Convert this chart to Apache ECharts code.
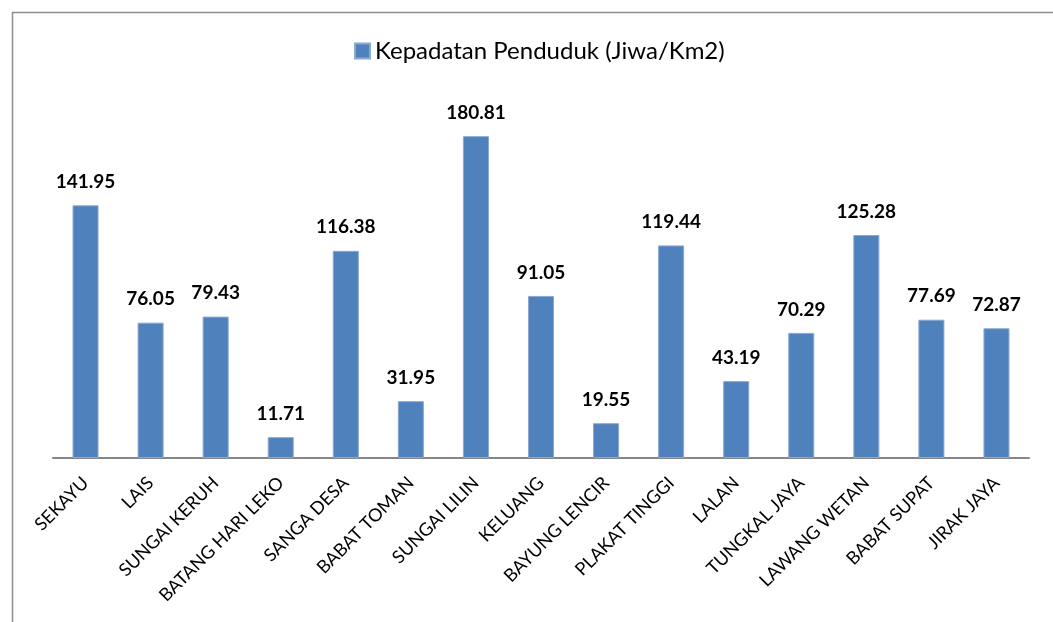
<!DOCTYPE html>
<html>
<head>
<meta charset="utf-8">
<script src="https://cdn.jsdelivr.net/npm/echarts@6/dist/echarts.min.js"></script>
<style>
  html, body { margin: 0; padding: 0; background: #fff; }
  #main { width: 1053px; height: 622px; }
</style>
</head>
<body>
<div id="main"></div>
<script>
// data
const categories = ['SEKAYU', 'LAIS', 'SUNGAI KERUH', 'BATANG HARI LEKO', 'SANGA DESA',
  'BABAT TOMAN', 'SUNGAI LILIN', 'KELUANG', 'BAYUNG LENCIR', 'PLAKAT TINGGI',
  'LALAN', 'TUNGKAL JAYA', 'LAWANG WETAN', 'BABAT SUPAT', 'JIRAK JAYA']
const density = [141.95, 76.05, 79.43, 11.71, 116.38, 31.95, 180.81, 91.05, 19.55,
  119.44, 43.19, 70.29, 125.28, 77.69, 72.87]
const seriesName = 'Kepadatan Penduduk (Jiwa/Km2)'

const chart = echarts.init(document.getElementById('main'))

const option = {
  animation: false,
  color: ['#4f81bd'],
  textStyle: { fontFamily: 'Lato' },
  graphic: [{
    type: 'rect',
    left: 10,
    top: 10,
    shape: { width: 1200, height: 800 },
    style: { fill: 'none', stroke: '#8c8c8c', lineWidth: 1.5 },
    silent: true
  }],
  legend: {
    left: 349,
    top: 34,
    itemWidth: 15,
    itemHeight: 15,
    itemGap: 8,
    icon: 'rect',
    textStyle: { fontSize: 24, color: '#000', fontFamily: 'Lato' }
  },
  grid: {
    left: 53,
    right: 24,
    top: 102,
    bottom: 164
  },
  xAxis: {
    type: 'category',
    data: categories,
    axisLine: { lineStyle: { color: '#868686', width: 2 } },
    axisTick: { show: false },
    axisLabel: {
      interval: 0,
      rotate: 45,
      margin: 22,
      fontSize: 18,
      color: '#000',
      fontFamily: 'Lato'
    }
  },
  yAxis: {
    type: 'value',
    min: 0,
    max: 200,
    show: false
  },
  series: [{
    name: seriesName,
    type: 'bar',
    data: density,
    barWidth: '40%',
    itemStyle: { borderColor: '#8aa9d3', borderWidth: 1 },
    label: {
      show: true,
      position: 'top',
      distance: 14,
      fontSize: 19,
      fontWeight: 'bold',
      color: '#000',
      fontFamily: 'Lato',
      formatter: p => p.value.toFixed(2)
    }
  }]
}

chart.setOption(option)
</script>
</body>
</html>
